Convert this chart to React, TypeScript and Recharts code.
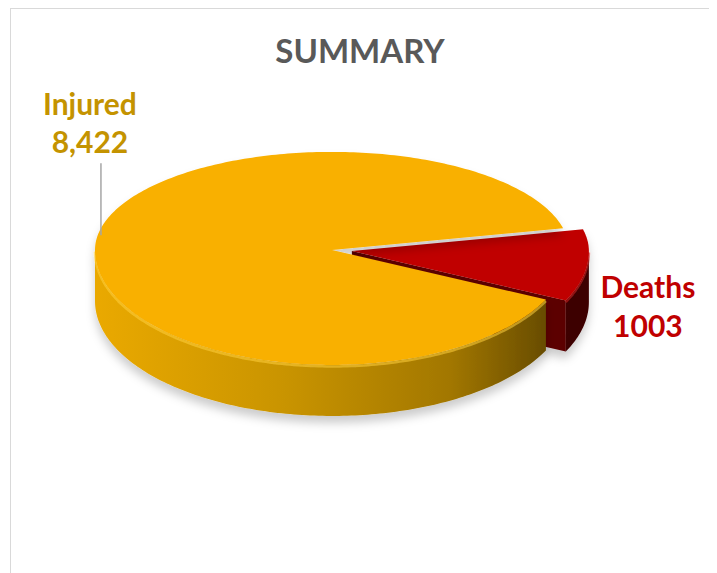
import React from 'react';
import { PieChart, Pie } from 'recharts';

// values
const categories = ['Deaths', 'Injured'];
const casualties = [1003, 8422];
const valueLabels = ['1003', '8,422'];

const data = categories.map((name, i) => ({ name, value: casualties[i], label: valueLabels[i] }));

// the back half of the disc is squashed more than the front half (cheap perspective)
const TILT_BACK = 0.414;
const TILT_FRONT = 0.485;
const DEPTH = 51; // thickness of the disc
const EXPLODE: Record<string, number> = { Deaths: 20 };

const SLICE_STYLE: Record<string, { top: string; wall: string[]; rim: string; text: string }> = {
  Injured: { top: '#f9b000', wall: ['#eaa900', '#c99400', '#a27700', '#5a4200'], rim: '#ffcf3a', text: '#c49300' },
  Deaths: { top: '#c00000', wall: ['#900000', '#780000', '#5c0000', '#3e0000'], rim: '#d42020', text: '#c00000' },
};

const rad = (d: number) => (d * Math.PI) / 180;
const tilt = (a: number) => (Math.sin(rad(a)) > 0 ? TILT_BACK : TILT_FRONT);

// point on the top rim of a disc centred at (ox, oy)
const rimPoint = (ox: number, oy: number, r: number, a: number, dy = 0) => [
  ox + r * Math.cos(rad(a)),
  oy - r * tilt(a) * Math.sin(rad(a)) + dy,
];

const explodedCentre = (cx: number, cy: number, midAngle: number, name: string) => {
  const off = EXPLODE[name] ?? 0;
  return [cx + off * Math.cos(rad(midAngle)), cy - off * tilt(midAngle) * Math.sin(rad(midAngle))];
};

const renderSlice = (props: any) => {
  const { cx, cy, outerRadius, startAngle, endAngle, midAngle, name } = props;
  const st = SLICE_STYLE[name];
  const r = outerRadius;
  const off = EXPLODE[name] ?? 0;
  const [ox, oy] = explodedCentre(cx, cy, midAngle, name);
  const lo = Math.min(startAngle, endAngle);
  const hi = Math.max(startAngle, endAngle);
  const gid = `wall-${name}`;

  const arc = (a: number, b: number, dy = 0) => {
    const n = Math.max(2, Math.ceil(Math.abs(b - a)));
    const pts: string[] = [];
    for (let i = 0; i <= n; i++) {
      const [x, y] = rimPoint(ox, oy, r, a + ((b - a) * i) / n, dy);
      pts.push(`${x.toFixed(2)},${y.toFixed(2)}`);
    }
    return pts;
  };

  // front-facing parts of the rim (where the disc side can be seen)
  const walls: [number, number][] = [];
  for (let k = Math.floor(lo / 360) - 1; k <= Math.ceil(hi / 360) + 1; k++) {
    const a = Math.max(lo, 180 + 360 * k);
    const b = Math.min(hi, 360 + 360 * k);
    if (b > a) walls.push([a, b]);
  }

  const wallPath = ([a, b]: [number, number]) => `M${arc(a, b).join(' L')} L${arc(b, a, DEPTH).join(' L')} Z`;
  const rimPath = ([a, b]: [number, number]) => `M${arc(a, b, 1.5).join(' L')}`;

  const cutFace = (a: number) => {
    const [x0, y0] = rimPoint(ox, oy, r, a);
    return `M${ox},${oy} L${x0},${y0} L${x0},${y0 + DEPTH} L${ox},${oy + DEPTH} Z`;
  };

  const topPath = `M${ox},${oy} L${arc(lo, hi).join(' L')} Z`;

  return (
    <g filter="url(#pieShadow)">
      <defs>
        <linearGradient id={gid} gradientUnits="userSpaceOnUse" x1={cx - r} y1={0} x2={cx + r} y2={0}>
          <stop offset="0%" stopColor={st.wall[0]} />
          <stop offset="40%" stopColor={st.wall[1]} />
          <stop offset="75%" stopColor={st.wall[2]} />
          <stop offset="100%" stopColor={st.wall[3]} />
        </linearGradient>
      </defs>
      {off > 0 && Math.cos(rad(lo)) > 0 && <path d={cutFace(lo)} fill={st.wall[2]} />}
      {off > 0 && Math.cos(rad(hi)) < 0 && <path d={cutFace(hi)} fill={st.wall[2]} />}
      {walls.map((w, i) => (
        <path key={i} d={wallPath(w)} fill={`url(#${gid})`} />
      ))}
      {walls.map((w, i) => (
        <path key={`r${i}`} d={rimPath(w)} fill="none" stroke={st.rim} strokeWidth={2.5} strokeOpacity={0.55} />
      ))}
      <path d={topPath} fill={st.top} />
    </g>
  );
};

const FONT = 'Lato, "Open Sans", sans-serif';

const renderLabel = (props: any) => {
  const { cx, cy, midAngle, outerRadius, name, payload } = props;
  const st = SLICE_STYLE[name];
  const [ox, oy] = explodedCentre(cx, cy, midAngle, name);
  const [px, py] = rimPoint(ox, oy, outerRadius, midAngle);
  const textStyle = { fontFamily: FONT, fontWeight: 700, fontSize: 30, fill: st.text };
  if (Math.cos(rad(midAngle)) < 0) {
    // left side: label above the disc with a leader line
    return (
      <g>
        <line x1={px + 4.5} y1={py - 4} x2={px + 4.5} y2={py - 76} stroke="#a6a6a6" strokeWidth={1.5} />
        <text x={px - 6.5} y={py - 124} textAnchor="middle" style={textStyle}>{name}</text>
        <text x={px - 6.5} y={py - 86} textAnchor="middle" style={textStyle}>{payload.label}</text>
      </g>
    );
  }
  return (
    <g>
      <text x={px + 60.5} y={py + 34} textAnchor="middle" style={textStyle}>{name}</text>
      <text x={px + 60.5} y={py + 73} textAnchor="middle" style={textStyle}>{payload.label}</text>
    </g>
  );
};

export default function App() {
  return (
    <div style={{ position: 'relative', marginLeft: 2, width: 700, height: 580, boxSizing: 'border-box', border: '1px solid #d9d9d9', background: '#fff' }}>
      <svg width={0} height={0} style={{ position: 'absolute' }}>
        <defs>
          <filter id="pieShadow" x="-20%" y="-20%" width="140%" height="170%">
            <feDropShadow dx="0" dy="7" stdDeviation="5" floodColor="#000" floodOpacity="0.2" />
          </filter>
        </defs>
      </svg>
      <div style={{ position: 'absolute', left: 0, top: 21, width: 698, textAlign: 'center', fontFamily: FONT, fontWeight: 700, fontSize: 33, color: '#595959' }}>
        SUMMARY
      </div>
      <PieChart width={698} height={570} margin={{ top: 0, right: 0, bottom: 0, left: 0 }}>
        <Pie
          data={data}
          dataKey="value"
          nameKey="name"
          cx={321}
          cy={241}
          outerRadius={237}
          startAngle={-25.5}
          endAngle={334.5}
          stroke="none"
          shape={renderSlice}
          activeShape={renderSlice}
          label={renderLabel}
          labelLine={false}
          isAnimationActive={false}
        />
      </PieChart>
    </div>
  );
}
